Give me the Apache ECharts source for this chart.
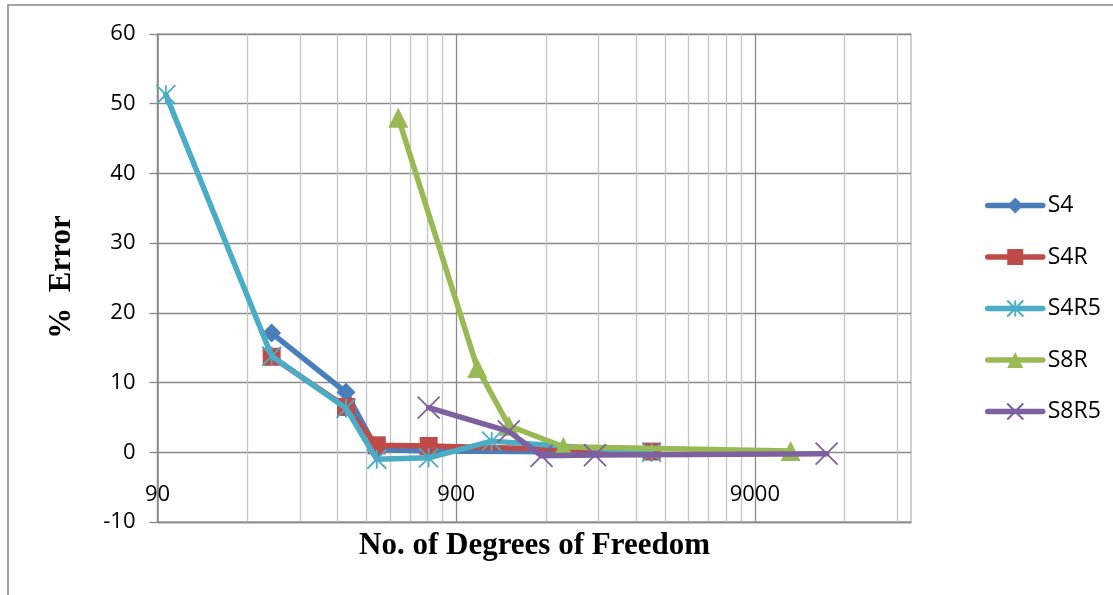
<!DOCTYPE html>
<html><head><meta charset="utf-8">
<script src="https://cdn.jsdelivr.net/npm/echarts@6/dist/echarts.min.js"></script>
<style>html,body{margin:0;padding:0;background:#fff}#c{width:1113px;height:595px}</style>
</head><body><div id="c"></div>
<script>
// ---- data ----
const seriesNames = ['S4', 'S4R', 'S4R5', 'S8R', 'S8R5'];
const dofS4   = [217, 385, 488, 728, 4062];
const errS4   = [17.1, 8.6, 0.4, 0.2, 0.0];
const dofS4R  = [217, 385, 488, 728, 4062];
const errS4R  = [13.7, 6.5, 1.0, 0.9, 0.1];
const dofS4R5 = [96, 217, 385, 488, 728, 1183, 4062];
const errS4R5 = [51.3, 13.8, 6.3, -1.0, -0.8, 1.6, 0.0];
const dofS8R  = [576, 1059, 1352, 2056, 11860];
const errS8R  = [48.0, 12.1, 3.8, 0.8, 0.2];
const dofS8R5 = [728, 1350, 1738, 2624, 15650];
const errS8R5 = [6.4, 3.0, -0.5, -0.4, -0.2];

const xLabelValues = [90, 900, 9000];
const xGridValues = [90, 180, 270, 360, 450, 540, 630, 720, 810,
                     900, 1800, 2700, 3600, 4500, 5400, 6300, 7200, 8100,
                     9000, 18000, 27000];
const xMin = 90, xMax = 30000;
const yMin = -10, yMax = 60, yStep = 10;
const xTitle = 'No. of Degrees of Freedom';
const yTitle = '%  Error';

// ---- styling ----
const colors = ['#4A7EBB', '#BE4B48', '#4BACC6', '#98B954', '#7D60A0'];
const asterisk = 'path://M0,0L10,10M10,0L0,10M5,0L5,10';
const cross = 'path://M0,0L10,10M10,0L0,10';
const symbols = ['diamond', 'rect', asterisk, 'triangle', cross];
const symSizes = [19, 18, 19, 20, 22];
const allDof = [dofS4, dofS4R, dofS4R5, dofS8R, dofS8R5];
const allErr = [errS4, errS4R, errS4R5, errS8R, errS8R5];

function pairs(xs, ys) { return xs.map((x, i) => [x, ys[i]]); }

const series = seriesNames.map((name, k) => {
  const isPath = symbols[k].indexOf('path://') === 0;
  return {
    name: name,
    type: 'line',
    data: pairs(allDof[k], allErr[k]),
    symbol: symbols[k],
    symbolSize: symSizes[k],
    showSymbol: true,
    showAllSymbol: true,
    clip: false,
    lineStyle: { color: colors[k], width: 5.5, cap: 'round', join: 'round' },
    itemStyle: isPath
      ? { color: 'rgba(0,0,0,0)', borderColor: colors[k], borderWidth: 1.8 }
      : { color: colors[k], borderWidth: 0 },
    emphasis: { disabled: true },
    z: 10 + k
  };
});

const minorC = '#c4c4c4', majorC = '#8a8a8a';
const vColors = [majorC, minorC, minorC, minorC, minorC, minorC, minorC, minorC, minorC];

const chart = echarts.init(document.getElementById('c'), null, { renderer: 'canvas' });
chart.setOption({
  animation: false,
  backgroundColor: '#ffffff',
  textStyle: { fontFamily: 'Open Sans' },
  grid: {
    left: 157.5, right: 202, top: 34, bottom: 73,
    show: true, borderColor: '#b4b4b4', borderWidth: 1.3, backgroundColor: 'transparent',
    containLabel: false
  },
  legend: {
    orient: 'vertical',
    left: 985, top: 194, padding: 0,
    itemWidth: 55, itemHeight: 20, itemGap: 28.5,
    selectedMode: false,
    data: seriesNames,
    lineStyle: { width: 5.5, cap: 'round' },
    textStyle: { fontFamily: 'Open Sans', fontSize: 23, color: '#000', lineHeight: 20 }
  },
  xAxis: {
    type: 'log', logBase: 10, min: xMin, max: xMax,
    axisLine: { show: true, onZero: false, lineStyle: { color: majorC, width: 1.3 } },
    axisTick: { show: false, customValues: xGridValues },
    axisLabel: {
      customValues: xLabelValues, inside: true, margin: 16,
      fontFamily: 'Open Sans', fontSize: 22, color: '#000',
      formatter: v => String(Math.round(v))
    },
    splitLine: { show: true, lineStyle: { color: vColors, width: 1.3 } },
    minorTick: { show: false }, minorSplitLine: { show: false }
  },
  yAxis: {
    type: 'value', min: yMin, max: yMax, interval: yStep,
    axisLine: { show: true, lineStyle: { color: '#868686', width: 1.5 } },
    axisTick: { show: true, inside: false, length: 8, lineStyle: { color: '#868686', width: 1.3 } },
    axisLabel: { margin: 22, fontFamily: 'Open Sans', fontSize: 22, color: '#000' },
    splitLine: { show: true, lineStyle: { color: majorC, width: 1.3 } }
  },
  graphic: [
    { type: 'rect', silent: true, z: -10,
      shape: { x: 8, y: 5, width: 1200, height: 700 },
      style: { fill: 'none', stroke: '#868686', lineWidth: 1.5 } },
    { type: 'text', silent: true,
      x: 534.5, y: 546,
      style: { text: xTitle, font: 'bold 31px "Liberation Serif"', fill: '#000',
               textAlign: 'center', textVerticalAlign: 'middle' } },
    { type: 'text', silent: true,
      x: 62, y: 277, rotation: Math.PI / 2,
      style: { text: yTitle, font: 'bold 31px "Liberation Serif"', fill: '#000',
               textAlign: 'center', textVerticalAlign: 'middle' } }
  ],
  series: series
});
</script>
</body></html>
